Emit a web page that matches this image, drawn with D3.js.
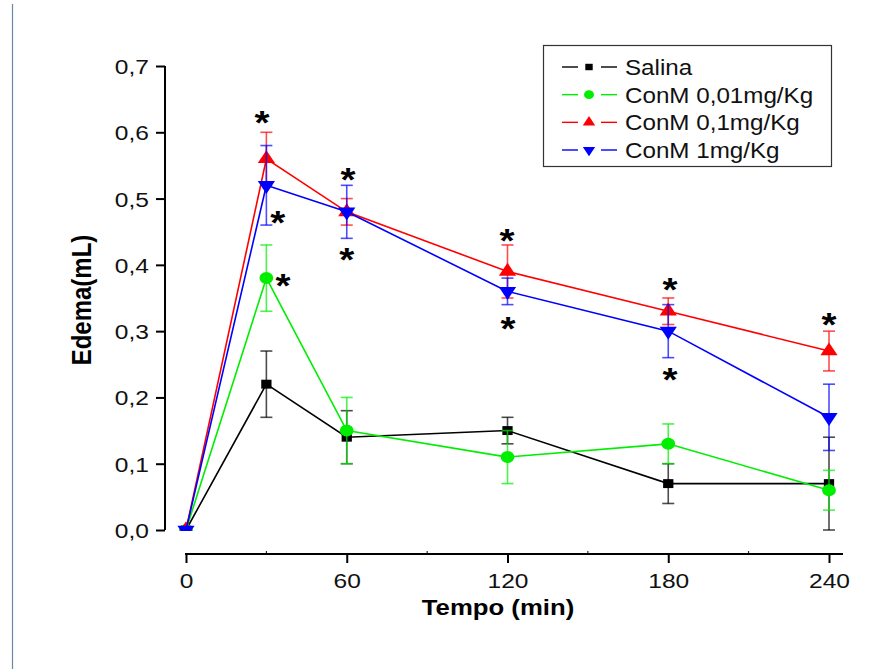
<!DOCTYPE html>
<html>
<head>
<meta charset="utf-8">
<script src="https://cdn.jsdelivr.net/npm/d3@7"></script>
<style>
  html, body { margin: 0; padding: 0; background: #fff; }
  svg { display: block; font-family: "Liberation Sans", Arial, sans-serif; }
  .wide { transform-box: fill-box; transform-origin: 50% 50%; transform: scaleX(1.17); }
  .wide-end { transform-box: fill-box; transform-origin: 100% 50%; transform: scaleX(1.17); }
  .wide-start { transform-box: fill-box; transform-origin: 0% 50%; transform: scaleX(1.1); }
</style>
</head>
<body>
<svg id="chart" width="888" height="669"></svg>
<script>
const times = [0, 30, 60, 120, 180, 240];

const salina = [0, 0.22, 0.14, 0.15, 0.07, 0.07];
const salinaErr = [0, 0.05, 0.04, 0.02, 0.03, 0.07];
const conm001 = [0, 0.38, 0.15, 0.11, 0.13, 0.06];
const conm001Err = [0, 0.05, 0.05, 0.04, 0.03, 0.03];
const conm01 = [0, 0.56, 0.48, 0.39, 0.33, 0.27];
const conm01Err = [0, 0.04, 0.02, 0.04, 0.02, 0.03];
const conm1 = [0, 0.52, 0.48, 0.36, 0.30, 0.17];
const conm1Err = [0, 0.06, 0.04, 0.02, 0.04, 0.05];

const seriesNames = ["Salina", "ConM 0,01mg/Kg", "ConM 0,1mg/Kg", "ConM 1mg/Kg"];

const xTicks = [0, 60, 120, 180, 240];
const xMinorTicks = [30, 90, 150, 210];
const yTicks = [0, 0.1, 0.2, 0.3, 0.4, 0.5, 0.6, 0.7];

// asterisks (significance marks), centre of glyph in data units
const starTime = [28.4, 34.3, 36.2, 60.5, 60, 119.8, 120.2, 180.7, 180.7, 240];
const starValue = [0.626, 0.474, 0.379, 0.540, 0.418, 0.448, 0.314, 0.373, 0.237, 0.321];

const series = [
  {name: seriesNames[0], values: salina, err: salinaErr, color: "#000000", shape: "square"},
  {name: seriesNames[1], values: conm001, err: conm001Err, color: "#00ee00", shape: "circle"},
  {name: seriesNames[2], values: conm01, err: conm01Err, color: "#ff0000", shape: "up"},
  {name: seriesNames[3], values: conm1, err: conm1Err, color: "#0000ff", shape: "down"}
];

const svg = d3.select("#chart");

const x = d3.scaleLinear().domain([0, 240]).range([186, 829]);
const y = d3.scaleLinear().domain([0, 0.7]).range([530, 66]);

// thin frame line on the left
svg.append("line")
  .attr("x1", 12.5).attr("x2", 12.5)
  .attr("y1", 4).attr("y2", 669)
  .attr("stroke", "#6a86b0").attr("stroke-width", 1.2);

function markerPath(shape, k) {
  if (shape === "square") return d3.symbol(d3.symbolSquare, 80 * k * k)();
  if (shape === "circle") return d3.symbol(d3.symbolCircle, 113 * k * k)();
  return d3.symbol(d3.symbolTriangle, 97 * k * k)();
}
function markerTransform(shape, px, py) {
  const rot = shape === "down" ? " rotate(180)" : "";
  return `translate(${px},${py}) scale(1.15,1)${rot}`;
}

// axes
const yAxis = svg.append("g")
  .attr("transform", "translate(165,0)")
  .call(d3.axisLeft(y).tickValues(yTicks).tickSize(9).tickPadding(5)
    .tickFormat(d => d3.format(".1f")(d).replace(".", ",")));
yAxis.select(".domain").attr("d", `M0,${y(0.7)}V${y(0)}`).attr("stroke-width", 2);
yAxis.selectAll(".tick line").attr("stroke-width", 2);
yAxis.selectAll(".tick text")
  .attr("font-size", 21).attr("fill", "#111")
  .attr("x", -16).attr("dy", "0.36em")
  .attr("class", "wide-end");

const xAxis = svg.append("g")
  .attr("transform", "translate(0,554)")
  .call(d3.axisBottom(x).tickValues(xTicks).tickSize(9).tickPadding(6));
xAxis.select(".domain").attr("d", "M185,0H843").attr("stroke-width", 2);
xAxis.selectAll(".tick line").attr("stroke-width", 2);
xAxis.selectAll(".tick text")
  .attr("font-size", 21).attr("fill", "#111")
  .attr("y", 34).attr("dy", null)
  .attr("class", "wide");
xAxis.selectAll(".minor")
  .data(xMinorTicks)
  .join("line")
  .attr("x1", d => x(d)).attr("x2", d => x(d))
  .attr("y1", 0).attr("y2", -3)
  .attr("stroke", "#000").attr("stroke-width", 1);

svg.append("text")
  .attr("x", 498).attr("y", 615)
  .attr("text-anchor", "middle")
  .attr("font-size", 22).attr("font-weight", "bold")
  .attr("class", "wide")
  .text("Tempo (min)");

svg.append("g")
  .attr("transform", "translate(91,300) scale(1.18,1) rotate(-90)")
  .append("text")
  .attr("text-anchor", "middle")
  .attr("font-size", 24).attr("font-weight", "bold")
  .text("Edema(mL)");

// plot
svg.append("clipPath").attr("id", "plotClip")
  .append("rect").attr("x", 160).attr("y", 40).attr("width", 700).attr("height", 491);

const plot = svg.append("g").attr("clip-path", "url(#plotClip)");
const line = d3.line().x(d => x(d.t)).y(d => y(d.v));

series.forEach(s => {
  const pts = times.map((t, i) => ({t, v: s.values[i], e: s.err[i]}));
  const g = plot.append("g");

  g.append("path")
    .datum(pts)
    .attr("d", line)
    .attr("fill", "none")
    .attr("stroke", s.color)
    .attr("stroke-width", 1.6);

  const eb = g.selectAll(".err")
    .data(pts.filter(p => p.e > 0))
    .join("g")
    .attr("stroke", s.color)
    .attr("stroke-opacity", 0.7)
    .attr("stroke-width", 1.6);
  eb.append("line")
    .attr("x1", p => x(p.t)).attr("x2", p => x(p.t))
    .attr("y1", p => y(p.v - p.e)).attr("y2", p => y(p.v + p.e));
  eb.append("line")
    .attr("x1", p => x(p.t) - 6).attr("x2", p => x(p.t) + 6)
    .attr("y1", p => y(p.v + p.e)).attr("y2", p => y(p.v + p.e));
  eb.append("line")
    .attr("x1", p => x(p.t) - 6).attr("x2", p => x(p.t) + 6)
    .attr("y1", p => y(p.v - p.e)).attr("y2", p => y(p.v - p.e));

  g.selectAll(".mk")
    .data(pts)
    .join("path")
    .attr("d", markerPath(s.shape, 1))
    .attr("transform", p => markerTransform(s.shape, x(p.t), y(p.v)))
    .attr("fill", s.color);
});

// asterisks
svg.append("g")
  .selectAll("text")
  .data(starTime.map((t, i) => ({t, v: starValue[i]})))
  .join("text")
  .attr("x", d => x(d.t))
  .attr("y", d => y(d.v))
  .attr("dy", "0.56em")
  .attr("text-anchor", "middle")
  .attr("font-size", 33).attr("font-weight", "bold")
  .attr("class", "wide")
  .text("*");

// legend
const legend = svg.append("g");
legend.append("rect")
  .attr("x", 543.5).attr("y", 45.5).attr("width", 288).attr("height", 121)
  .attr("fill", "#fff").attr("stroke", "#333").attr("stroke-width", 1.2);

const rowY = d3.scalePoint().domain(seriesNames).range([67, 150]);
const item = legend.selectAll(".item")
  .data(series)
  .join("g")
  .attr("transform", s => `translate(0,${rowY(s.name)})`);
item.append("line").attr("x1", 562).attr("x2", 578).attr("stroke", s => s.color).attr("stroke-width", 1.4);
item.append("line").attr("x1", 601).attr("x2", 617).attr("stroke", s => s.color).attr("stroke-width", 1.4);
item.append("path")
  .attr("d", s => markerPath(s.shape, 0.72))
  .attr("transform", s => markerTransform(s.shape, 589, 0))
  .attr("fill", s => s.color);
item.append("text")
  .attr("x", 625).attr("dy", "0.36em")
  .attr("font-size", 22).attr("fill", "#111")
  .attr("class", "wide-start")
  .text(s => s.name);
</script>
</body>
</html>
